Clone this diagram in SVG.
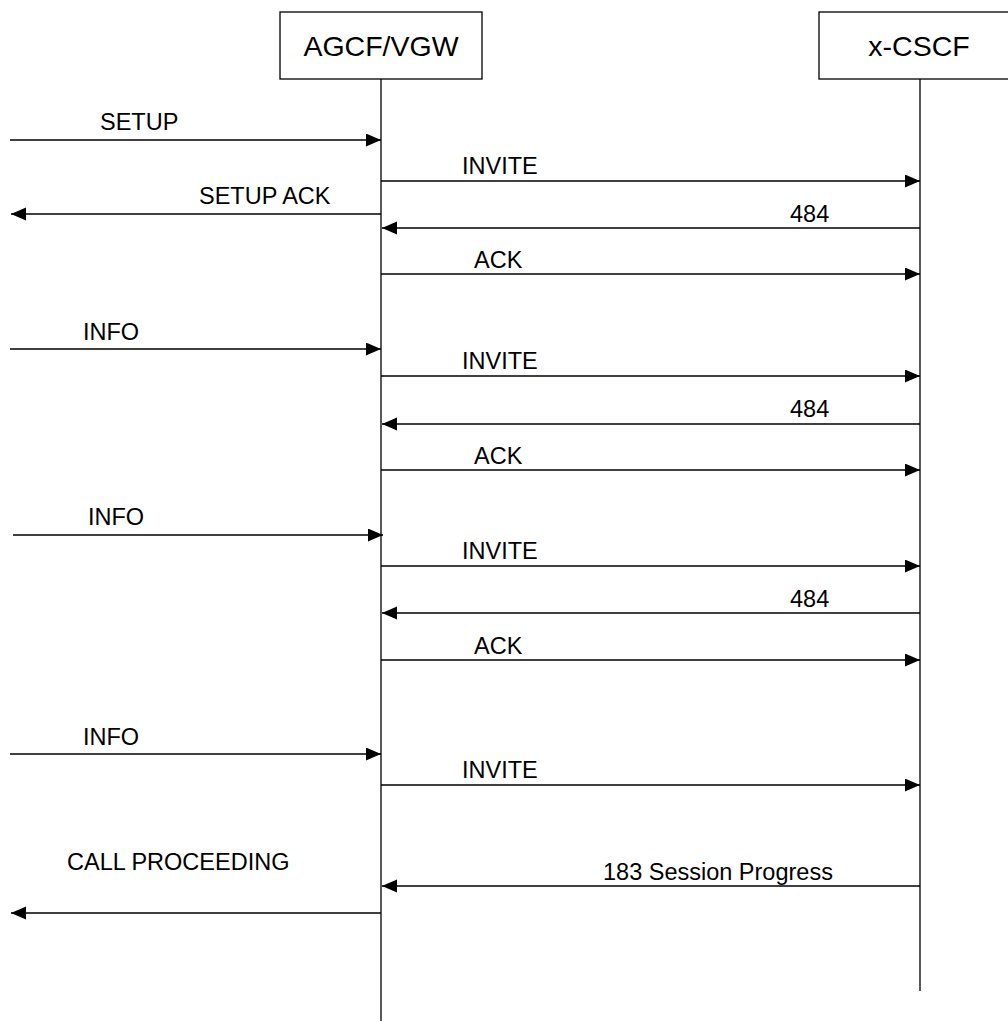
<svg xmlns="http://www.w3.org/2000/svg" width="1008" height="1021" viewBox="0 0 1008 1021">
<style>
.box{fill:#fff;stroke:#000;stroke-width:1.3}
.life{stroke:#000;stroke-width:1.3;fill:none}
.msg{stroke:#000;stroke-width:1.3;fill:none;marker-end:url(#ah)}
.t{font-family:"Liberation Sans",Arial,sans-serif;font-size:23.5px;fill:#000}
.h{font-family:"Liberation Sans",Arial,sans-serif;font-size:28.5px;fill:#000;text-anchor:middle}
</style>
<defs>
<marker id="ah" markerUnits="userSpaceOnUse" markerWidth="16" markerHeight="14" refX="15" refY="6.5" orient="auto">
<path d="M0,0 L15,6.5 L0,13 z" fill="#000"/>
</marker>
</defs>
<rect width="1008" height="1021" fill="#fff"/>
<g id="agcf">
<rect class="box" x="280" y="12" width="202" height="67"/>
<text class="h" x="381" y="56">AGCF/VGW</text>
<line class="life" x1="381" y1="79" x2="381" y2="1021"/>
</g>
<g id="xcscf">
<rect class="box" x="819" y="12" width="202" height="67"/>
<text class="h" x="919" y="56">x-CSCF</text>
<line class="life" x1="920" y1="79" x2="920" y2="991"/>
</g>
<g id="connectors">
<line class="msg" x1="10" y1="140" x2="381" y2="140"/>
<line class="msg" x1="381" y1="181" x2="920" y2="181"/>
<line class="msg" x1="381" y1="214" x2="11" y2="214"/>
<line class="msg" x1="920" y1="228" x2="382" y2="228"/>
<line class="msg" x1="381" y1="274" x2="920" y2="274"/>
<line class="msg" x1="10" y1="349" x2="381" y2="349"/>
<line class="msg" x1="381" y1="376" x2="920" y2="376"/>
<line class="msg" x1="920" y1="424" x2="382" y2="424"/>
<line class="msg" x1="381" y1="470" x2="920" y2="470"/>
<line class="msg" x1="13" y1="535" x2="383" y2="535"/>
<line class="msg" x1="381" y1="566" x2="920" y2="566"/>
<line class="msg" x1="920" y1="613" x2="382" y2="613"/>
<line class="msg" x1="381" y1="660" x2="920" y2="660"/>
<line class="msg" x1="10" y1="754" x2="381" y2="754"/>
<line class="msg" x1="381" y1="785" x2="920" y2="785"/>
<line class="msg" x1="920" y1="886" x2="382" y2="886"/>
<line class="msg" x1="381" y1="913" x2="11" y2="913"/>
</g>
<g id="labels">
<text class="t" x="100" y="130">SETUP</text>
<text class="t" x="462" y="174">INVITE</text>
<text class="t" x="199" y="204">SETUP ACK</text>
<text class="t" x="790" y="222">484</text>
<text class="t" x="474" y="268">ACK</text>
<text class="t" x="83" y="340">INFO</text>
<text class="t" x="462" y="369">INVITE</text>
<text class="t" x="790" y="417">484</text>
<text class="t" x="474" y="464">ACK</text>
<text class="t" x="88" y="525">INFO</text>
<text class="t" x="462" y="559">INVITE</text>
<text class="t" x="790" y="607">484</text>
<text class="t" x="474" y="654">ACK</text>
<text class="t" x="83" y="745">INFO</text>
<text class="t" x="462" y="778">INVITE</text>
<text class="t" x="67" y="870">CALL PROCEEDING</text>
<text class="t" x="603" y="880">183 Session Progress</text>
</g>
</svg>
